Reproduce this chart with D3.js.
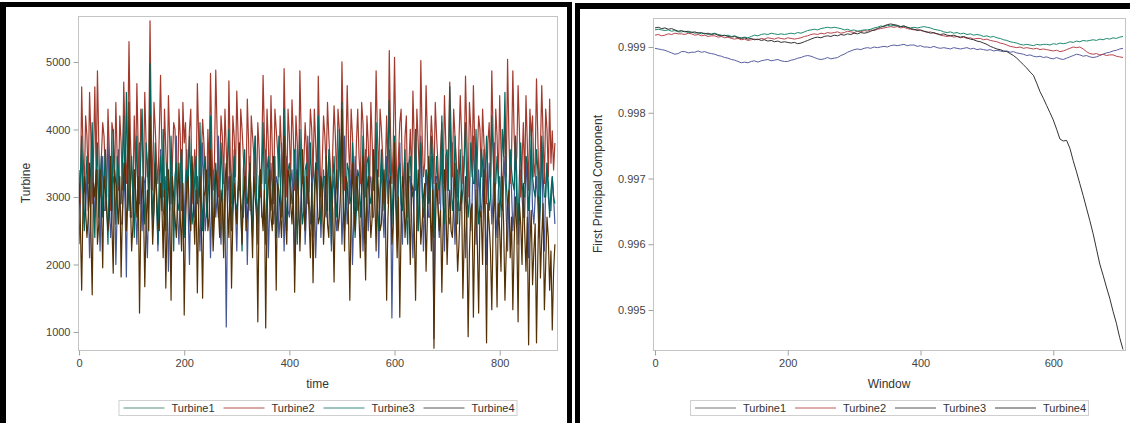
<!DOCTYPE html>
<html>
<head>
<meta charset="utf-8">
<script src="https://cdn.jsdelivr.net/npm/d3@7"></script>
<style>
  body { margin: 0; background: #fff; }
  svg text { font-family: 'Liberation Sans', Arial, sans-serif; }
</style>
</head>
<body>
<svg id="chart"></svg>
<script>
// ---- left chart: turbine readings ----
// main samples sit at time 0, 5, 10 ... ; the *Half arrays hold the readings in between (2.5, 7.5, ...)
const timeStep = 5;
const turbine1 = [2300,3700,2600,3300,2100,3800,2700,3400,2200,3600,2800,3900,2400,3300,2000,3700,2600,3500,1815,3900,
  2700,3400,2300,3800,2500,3200,2100,4300,2600,3500,2200,3700,2800,3300,1900,3600,2500,3900,2300,3400,
  2600,3700,2000,3500,2700,3300,2200,3800,2500,3600,2100,3400,2700,3900,2300,3500,1074,3300,2600,3700,
  2200,3500,2800,3200,2000,3600,2500,3900,2300,3400,2700,3700,2100,3500,2600,3300,2400,3800,2200,3600,
  2700,3400,2000,3700,2500,3300,2300,3900,2600,3500,2100,3800,2400,3400,2700,3600,2200,3300,2500,3700,
  2300,3900,2600,3400,2000,3600,2800,3500,2200,3700,2500,3300,2700,3800,2100,3500,2400,3600,3700,1207,
  3400,2600,3800,2300,3500,2700,3300,2100,3600,2500,3900,2200,3400,2700,3600,900,3300,2400,3700,2200,
  3500,2600,3800,2300,3400,2800,3600,2100,3500,2500,3900,2300,3400,2700,3700,2000,3500,2600,3800,2400,
  3300,2800,3600,2200,3500,2500,3900,2300,3400,2700,3600,2100,3700,2600,3300,2400,3800,2200,3500,2800,
  3300,2600];
const turbine1Half = [2900,3100,2800,3000,2700,3200,3000,2900,3100,2800,3300,3000,2700,3200,2800,3000,2600,2900,3300,2700,
  3200,2800,3100,2900,3300,2600,3000,3200,2800,3100,2900,3300,2700,3000,2800,3200,3000,2700,3100,2900,
  3300,2800,3000,3100,2900,2700,3200,3000,2800,3100,2900,3200,3000,2700,3100,2800,2900,3200,3000,2800,
  3100,2900,2700,3300,3000,2800,3200,2900,3100,2700,3000,3300,2800,3100,2900,3200,2700,3000,3100,2800,
  3200,2900,3000,2700,3100,3300,2800,3000,2900,3200,2700,3100,3000,2800,3300,2900,3100,2700,3000,3200,
  2800,3100,2900,3000,2700,3300,2900,3100,2800,3000,3200,2700,3100,2900,3000,2800,3200,2900,3100,2700,
  3000,3200,2800,3100,2900,3300,2700,3000,3100,2800,3200,2900,3000,2700,3100,3300,2900,2800,3000,3200,
  2700,3100,2900,3000,2800,3200,3000,2700,3100,2900,3300,2800,3000,3100,2900,2700,3200,3000,2800,3100,
  2900,3200,2700,3000,3100,2800,3300,2900,3000,2700,3100,3200,2800,3000,2900,3100,2700,3200,3000,2800,
  3000];
const turbine2 = [3400,4630,3100,3900,4550,2900,4630,4870,3000,4100,3300,4300,2800,3950,4400,3100,3800,4700,3200,5300,
  3400,4200,4680,2900,3900,4550,3300,5610,3100,4000,3200,4800,3000,3700,4500,2900,4100,3300,4300,2800,
  3800,3200,4000,2900,3700,4680,3000,4150,3300,4000,4830,3100,4880,3000,4200,3200,3700,4720,2900,3900,
  4570,3100,4000,3300,4450,2800,3900,3200,4100,3000,4800,3200,3800,4500,2900,4000,3300,3700,4900,3000,
  3900,4440,3100,3800,4870,3200,4100,2900,4300,3300,3800,4790,3000,4200,3400,3900,2800,4350,3200,4000,
  5000,3100,4650,3300,3900,2900,4300,3200,4100,3000,3800,4400,3100,4870,3300,4000,2900,4200,5170,3200,
  5070,3000,4100,3300,3900,2800,4000,4570,3100,3800,5020,3300,4650,3000,4200,3200,3900,2900,4100,4500,
  3100,4700,3300,3900,3000,4500,3200,4790,3000,4000,4650,3100,4200,3300,3800,2900,4100,4870,3200,3900,
  4500,3000,4200,5040,3200,4870,3400,4650,3000,4100,4500,3100,3900,3300,4750,3000,4650,3200,4000,4450,
  3980,3800];
const turbine2Half = [2900,3700,4200,3200,3900,3600,3300,3800,3600,3900,3000,3700,4100,3200,3600,4200,3100,3900,3700,3900,
  3000,3300,3700,4300,3200,3800,3600,3900,4400,3500,3900,3700,4300,3100,3800,3500,4000,3000,3900,4400,
  4100,3500,4300,3300,3000,3900,3600,3800,2900,3400,3800,3500,4000,3400,3900,4300,3100,3600,4200,3300,
  3900,4300,3600,3100,3800,4200,3600,3000,3700,3600,3900,4300,3100,3700,4300,3700,4200,3200,3800,4300,
  3300,3900,4200,3100,3900,3500,3700,3600,4000,4300,3200,3800,3500,3900,4400,3500,3700,3900,4300,3300,
  3900,3600,3800,4300,3400,3800,3600,4400,3500,4200,3100,3800,3600,3900,4300,3600,3400,3300,3900,3700,
  3800,3600,4300,3000,4200,3500,3200,3800,4300,3300,3900,3500,3900,3600,3800,4400,3500,3700,3200,3800,
  3600,4000,4300,3500,3800,3900,3500,3900,4400,3300,3800,3600,4000,4300,3500,3800,3300,3900,4300,3200,
  3700,3500,3300,3900,3600,3900,3600,4000,3500,3200,3800,4300,4200,3500,3900,3700,3900,4300,3300,3500,
  3400];
const turbine3 = [2900,3900,2500,3600,3000,4100,2400,3800,3200,2700,3700,2300,3500,4000,2600,3400,2900,4200,4550,2800,
  3600,2400,3900,3100,4300,2600,3500,4980,2700,3800,2300,3600,4000,2500,3300,3900,2200,3500,2800,3700,
  2400,3400,3900,2600,3300,2900,4100,2500,3600,3000,4200,2400,3500,2700,3800,2300,3400,4000,2500,3600,
  2800,3300,2200,3700,2900,3500,2400,3900,2600,3400,4100,2300,3600,2800,3300,2400,3900,2700,4300,2500,
  3500,2900,3700,2300,4000,2600,3400,3000,3800,2400,3500,4200,2600,3300,2800,3700,2300,3600,2700,4000,
  4400,2500,3500,2900,3800,2400,3400,2700,3900,2300,3600,2900,3300,4100,2500,3700,2800,3400,4440,2600,
  3900,2400,3500,2800,3700,2300,3600,3000,4000,2500,3800,2700,3400,2900,3900,2400,3600,3100,4200,2600,
  3700,4630,2800,3900,2600,3700,3100,4100,2700,3800,3200,4000,2600,3700,3000,3900,2800,4200,3100,3600,
  2700,4000,4550,2900,3700,3200,3900,2600,3800,3000,3600,2800,4000,3100,3700,2500,3900,3000,3500,2700,
  3300,2900];
const turbine3Half = [3300,3000,3200,2800,3500,2900,3300,2700,3600,3200,2900,3400,2800,3100,3600,2900,3500,3100,3400,3200,
  3000,3300,2700,3600,3000,3800,2900,3400,3100,2900,3300,2800,3200,3500,2800,3100,3300,2900,3400,3000,
  2900,3200,3300,2800,3600,3100,3000,3400,2700,3300,3000,3200,3100,2900,3300,2800,3600,3000,3200,2900,
  3100,2900,3400,3000,3200,2800,3500,3000,3300,3200,3000,3400,2900,3100,3600,2800,3300,3100,3000,3400,
  3200,3000,2900,3300,3100,2800,3500,3100,3200,3000,3400,2900,3100,3300,2800,3400,3200,3000,3300,3200,
  3100,2900,3400,3000,3200,2800,3300,3100,2900,3500,3000,3200,3400,2800,3100,3300,2900,3600,3000,3200,
  3000,3400,2900,3300,2800,3500,3100,3200,3000,3400,3100,2900,3300,3000,3500,3100,3200,3300,2900,3600,
  3100,3300,3000,3400,3200,2900,3500,3100,3000,3400,3200,3100,2900,3500,3300,3100,3000,3600,3200,3300,
  3100,3600,3200,3000,3400,3100,2900,3300,3200,3000,3500,3100,3300,3000,3400,2900,3300,3000,3200,3100,
  3000];
const turbine4 = [3200,1620,3300,2400,3500,1550,3000,2300,3400,1950,3100,2500,3600,1870,3200,2600,1815,3300,2500,4400,
  2200,3400,2700,1280,3300,1670,3100,4200,2300,3500,2600,3200,2100,1650,3400,1470,3000,2400,3500,2200,
  1250,3200,2700,3600,2300,1580,3300,1500,3100,2500,3700,2200,3400,2800,3100,2100,3500,2400,1650,3200,
  2600,3800,2300,3300,2700,3500,2100,3000,1150,3400,2500,1060,3200,2700,3600,1620,3100,2400,3900,2300,
  3300,2600,1590,3400,2200,3700,2500,3200,2100,1730,3500,2600,3300,2300,3600,2400,3100,1740,3400,2700,
  4300,2200,3200,1470,3500,2500,3100,2100,3600,1770,3300,2400,3700,2200,3000,2600,3400,1470,3200,2300,
  3800,2100,1220,3300,2400,3500,2000,3100,1470,3400,2300,3000,1900,3600,2200,760,3200,2500,1590,3400,
  2000,3100,2400,3500,1900,2900,1500,3300,930,2800,1220,3100,1280,2700,3400,840,2600,1330,3200,1370,
  2500,3300,1470,2900,2100,1330,3000,1150,2600,3200,1900,810,2800,2200,840,3000,2400,1330,2700,1620,
  1030,2300];
const turbine4Half = [2600,2900,2800,2700,2500,3200,3400,2600,2900,3300,2800,2700,2600,3400,2900,3300,2800,3500,2900,3000,
  2600,3100,3300,2700,2900,2600,2500,3100,2800,3000,2500,2900,3100,2700,2800,3300,2700,3000,2700,3200,
  2600,3300,2500,2900,3100,2800,2600,3000,3400,2700,3000,2700,3200,2400,2900,3200,2800,3300,2700,2900,
  3100,2800,3000,2500,3000,2800,3300,2700,2900,2800,3100,2800,3400,2500,2900,3200,2800,3000,2700,3400,
  2900,3100,2600,3000,2800,2900,3300,2700,3200,2800,3000,2700,3100,2800,2600,3300,2800,3000,2500,3100,
  2900,3300,2700,2900,2800,3300,2700,3000,2600,3100,2900,2700,3000,3400,2500,3100,2800,2700,3300,2600,
  2900,3000,2600,3100,2800,2900,3200,2600,2800,3000,2600,3200,2700,2900,3100,2500,2900,2800,2600,3000,
  2700,2500,2900,2600,2300,3100,2400,2600,2200,2900,2500,2300,2800,2000,2500,2900,2200,2600,2400,2900,
  1900,2600,2200,3100,2700,2300,2500,2900,2000,2500,2700,2300,1700,2600,2100,1800,2900,2000,2400,2200,
  1900];
const timeTicks = [0, 200, 400, 600, 800];
const turbineTicks = [1000, 2000, 3000, 4000, 5000];

// ---- right chart: first principal component, one value every 5 windows ----
const windowStep = 5;
const pc1 = [0.99898,0.99897,0.99896,0.99895,0.99893,0.99891,0.99889,0.99890,0.99893,0.99893,0.99891,0.99892,0.99892,0.99894,0.99892,0.99893,0.99891,0.99890,0.99889,0.99887,
  0.99886,0.99884,0.99883,0.99881,0.99880,0.99878,0.99876,0.99877,0.99876,0.99878,0.99879,0.99877,0.99879,0.99880,0.99881,0.99879,0.99880,0.99881,0.99879,0.99878,
  0.99878,0.99880,0.99881,0.99883,0.99884,0.99886,0.99887,0.99886,0.99884,0.99882,0.99881,0.99882,0.99884,0.99882,0.99883,0.99884,0.99887,0.99889,0.99892,0.99894,
  0.99896,0.99897,0.99896,0.99898,0.99899,0.99898,0.99900,0.99899,0.99900,0.99901,0.99900,0.99902,0.99903,0.99902,0.99903,0.99904,0.99902,0.99903,0.99903,0.99901,
  0.99902,0.99900,0.99900,0.99899,0.99901,0.99899,0.99898,0.99899,0.99898,0.99897,0.99899,0.99898,0.99897,0.99898,0.99899,0.99897,0.99898,0.99896,0.99897,0.99896,
  0.99895,0.99896,0.99894,0.99895,0.99894,0.99893,0.99894,0.99892,0.99893,0.99891,0.99890,0.99889,0.99887,0.99888,0.99886,0.99885,0.99886,0.99884,0.99885,0.99883,
  0.99882,0.99884,0.99882,0.99881,0.99883,0.99885,0.99887,0.99889,0.99888,0.99886,0.99887,0.99885,0.99884,0.99885,0.99887,0.99889,0.99891,0.99892,0.99894,0.99895,
  0.99897,0.99898];
const pc2 = [0.99918,0.99919,0.99917,0.99918,0.99920,0.99919,0.99921,0.99920,0.99920,0.99919,0.99921,0.99920,0.99918,0.99919,0.99917,0.99918,0.99916,0.99917,0.99917,0.99915,
  0.99916,0.99914,0.99915,0.99913,0.99912,0.99913,0.99911,0.99912,0.99910,0.99911,0.99912,0.99911,0.99913,0.99912,0.99914,0.99913,0.99912,0.99914,0.99913,0.99912,
  0.99914,0.99913,0.99912,0.99913,0.99914,0.99916,0.99917,0.99919,0.99920,0.99919,0.99921,0.99920,0.99922,0.99921,0.99922,0.99923,0.99921,0.99922,0.99924,0.99923,
  0.99922,0.99924,0.99923,0.99925,0.99924,0.99926,0.99925,0.99927,0.99928,0.99929,0.99930,0.99931,0.99930,0.99931,0.99929,0.99930,0.99928,0.99927,0.99926,0.99927,
  0.99925,0.99924,0.99922,0.99923,0.99921,0.99920,0.99918,0.99917,0.99916,0.99917,0.99915,0.99916,0.99914,0.99915,0.99913,0.99914,0.99912,0.99913,0.99913,0.99911,
  0.99912,0.99910,0.99909,0.99908,0.99906,0.99905,0.99903,0.99901,0.99900,0.99899,0.99900,0.99898,0.99899,0.99898,0.99897,0.99898,0.99896,0.99897,0.99896,0.99895,
  0.99894,0.99895,0.99893,0.99894,0.99896,0.99898,0.99900,0.99899,0.99900,0.99897,0.99893,0.99890,0.99889,0.99890,0.99888,0.99889,0.99887,0.99888,0.99888,0.99886,
  0.99885,0.99884];
const pc3 = [0.99926,0.99927,0.99926,0.99925,0.99926,0.99924,0.99925,0.99923,0.99923,0.99924,0.99922,0.99923,0.99921,0.99922,0.99920,0.99921,0.99919,0.99920,0.99921,0.99919,
  0.99918,0.99917,0.99918,0.99916,0.99917,0.99915,0.99914,0.99915,0.99914,0.99916,0.99918,0.99917,0.99919,0.99920,0.99919,0.99921,0.99920,0.99919,0.99920,0.99919,
  0.99920,0.99921,0.99920,0.99922,0.99921,0.99923,0.99925,0.99926,0.99927,0.99926,0.99928,0.99929,0.99930,0.99929,0.99930,0.99929,0.99928,0.99926,0.99927,0.99925,
  0.99926,0.99924,0.99925,0.99926,0.99926,0.99927,0.99929,0.99930,0.99932,0.99931,0.99933,0.99932,0.99933,0.99932,0.99931,0.99932,0.99930,0.99929,0.99930,0.99929,
  0.99930,0.99931,0.99930,0.99929,0.99927,0.99926,0.99925,0.99923,0.99922,0.99923,0.99921,0.99922,0.99920,0.99921,0.99919,0.99920,0.99918,0.99919,0.99918,0.99916,
  0.99917,0.99915,0.99916,0.99914,0.99913,0.99911,0.99910,0.99908,0.99907,0.99906,0.99904,0.99903,0.99904,0.99903,0.99902,0.99904,0.99903,0.99904,0.99904,0.99903,
  0.99905,0.99904,0.99906,0.99905,0.99906,0.99908,0.99907,0.99909,0.99908,0.99910,0.99909,0.99910,0.99911,0.99910,0.99912,0.99911,0.99913,0.99912,0.99914,0.99913,
  0.99915,0.99916];
const pc4 = [0.99929,0.99930,0.99928,0.99929,0.99927,0.99928,0.99926,0.99924,0.99925,0.99923,0.99924,0.99922,0.99923,0.99921,0.99922,0.99920,0.99921,0.99919,0.99920,0.99918,
  0.99917,0.99918,0.99916,0.99915,0.99916,0.99914,0.99913,0.99914,0.99912,0.99913,0.99911,0.99912,0.99910,0.99911,0.99909,0.99910,0.99908,0.99909,0.99907,0.99908,
  0.99907,0.99906,0.99907,0.99905,0.99906,0.99908,0.99910,0.99912,0.99914,0.99915,0.99914,0.99916,0.99917,0.99916,0.99918,0.99917,0.99919,0.99918,0.99920,0.99919,
  0.99921,0.99920,0.99922,0.99921,0.99922,0.99924,0.99926,0.99928,0.99930,0.99932,0.99934,0.99935,0.99934,0.99933,0.99931,0.99932,0.99930,0.99928,0.99927,0.99925,
  0.99926,0.99924,0.99923,0.99921,0.99922,0.99920,0.99919,0.99920,0.99918,0.99917,0.99918,0.99916,0.99915,0.99916,0.99914,0.99912,0.99911,0.99909,0.99908,0.99906,
  0.99904,0.99901,0.99899,0.99897,0.99896,0.99894,0.99893,0.99890,0.99887,0.99883,0.99878,0.99873,0.99868,0.99862,0.99857,0.99845,0.99832,0.99822,0.99811,0.99800,
  0.99789,0.99775,0.99760,0.99757,0.99758,0.99746,0.99727,0.99710,0.99692,0.99674,0.99655,0.99636,0.99616,0.99593,0.99570,0.99553,0.99535,0.99518,0.99498,0.99480,
  0.99458,0.99440];
const windowTicks = [0, 200, 400, 600];
const pcTicks = [0.995, 0.996, 0.997, 0.998, 0.999];

const seriesNames = ['Turbine1', 'Turbine2', 'Turbine3', 'Turbine4'];
const leftColors = ['#445694', '#A23A2E', '#01665E', '#543005'];
const rightColors = ['#5a5fa0', '#b8464e', '#1e8a6e', '#333333'];

// pair each sample with its x position; half samples go between the main ones
function toPoints(main, half, step) {
    const pts = [];
    main.forEach((v, i) => {
        pts.push([i * step, v]);
        if (half && i < half.length) pts.push([i * step + step / 2, half[i]]);
    });
    return pts;
}

const W = 1130, H = 423;
const svg = d3.select('#chart')
    .attr('width', W)
    .attr('height', H)
    .style('display', 'block');

svg.append('rect').attr('width', W).attr('height', H).attr('fill', '#fff');

// thick black panel borders (bottom edge runs off the picture)
function panelBorder(x0, x1, top, left, right, topW) {
    svg.append('rect').attr('x', x0).attr('y', top).attr('width', x1 - x0).attr('height', topW).attr('fill', '#000');
    svg.append('rect').attr('x', x0).attr('y', top).attr('width', left).attr('height', H - top).attr('fill', '#000');
    if (right) {
        svg.append('rect').attr('x', x1 - right).attr('y', top).attr('width', right).attr('height', H - top).attr('fill', '#000');
    }
}
panelBorder(0, 572, 2, 6, 5, 5);
panelBorder(575, W + 10, 3, 5, 0, 6);

function drawPanel(p) {
    const g = svg.append('g');

    const x = d3.scaleLinear().domain(p.xDomain).range([p.left, p.right]);
    const y = d3.scaleLinear().domain(p.yDomain).range([p.bottom, p.top]);

    // clip lines to the plot frame
    const clipId = 'clip' + p.id;
    g.append('clipPath').attr('id', clipId)
        .append('rect')
        .attr('x', p.left).attr('y', p.top)
        .attr('width', p.right - p.left).attr('height', p.bottom - p.top);

    const line = d3.line()
        .x(d => x(d[0]))
        .y(d => y(d[1]));

    g.append('g')
        .attr('clip-path', `url(#${clipId})`)
        .selectAll('path')
        .data(p.series)
        .join('path')
        .attr('d', d => line(d))
        .attr('fill', 'none')
        .attr('stroke', (d, i) => p.colors[i])
        .attr('stroke-width', p.lineWidth)
        .attr('stroke-linejoin', 'round');

    // plot frame
    g.append('rect')
        .attr('x', p.left + 0.5).attr('y', p.top + 0.5)
        .attr('width', p.right - p.left).attr('height', p.bottom - p.top)
        .attr('fill', 'none')
        .attr('stroke', '#c4c4c4');

    // axes
    const xAxis = d3.axisBottom(x).tickValues(p.xTicks).tickSize(5).tickPadding(4);
    const yAxis = d3.axisLeft(y).tickValues(p.yTicks).tickSize(5).tickPadding(3)
        .tickFormat(p.yFormat);

    const gx = g.append('g')
        .attr('transform', `translate(0, ${p.bottom + 0.5})`)
        .call(xAxis);
    const gy = g.append('g')
        .attr('transform', `translate(${p.left + 0.5}, 0)`)
        .call(yAxis);

    [gx, gy].forEach(a => {
        a.select('.domain').remove();
        a.selectAll('.tick line').attr('stroke', '#a0a0a0');
        a.selectAll('.tick text')
            .attr('fill', '#444')
            .style('font-size', '11px');
    });

    const cx = (p.left + p.right) / 2;
    const cy = (p.top + p.bottom) / 2;

    g.append('text')
        .attr('x', cx).attr('y', 388)
        .attr('text-anchor', 'middle')
        .attr('fill', '#333')
        .style('font-size', '12px')
        .text(p.xLabel);

    g.append('text')
        .attr('transform', `translate(${p.yLabelX}, ${cy}) rotate(-90)`)
        .attr('text-anchor', 'middle')
        .attr('fill', '#333')
        .style('font-size', '12px')
        .text(p.yLabel);

    // legend
    const itemW = 100;
    const legW = itemW * seriesNames.length - 2;
    const lx = cx - legW / 2;
    const leg = g.append('g');
    leg.append('rect')
        .attr('x', lx + 0.5).attr('y', 400.5)
        .attr('width', legW).attr('height', 15)
        .attr('fill', '#fff')
        .attr('stroke', '#d0d0d0');

    const item = leg.selectAll('.item')
        .data(seriesNames)
        .join('g')
        .attr('transform', (d, i) => `translate(${lx + 5 + i * itemW}, 408)`);
    item.append('line')
        .attr('x1', 0).attr('x2', 41)
        .attr('stroke', (d, i) => p.legendColors[i])
        .attr('stroke-width', 1);
    item.append('text')
        .attr('x', 48).attr('y', 4)
        .attr('fill', '#333')
        .style('font-size', '11px')
        .text(d => d);
}

drawPanel({
    id: 'L',
    left: 78, right: 557, top: 16, bottom: 350,
    xDomain: [-2, 909], yDomain: [733, 5681],
    series: [
        toPoints(turbine1, turbine1Half, timeStep),
        toPoints(turbine2, turbine2Half, timeStep),
        toPoints(turbine3, turbine3Half, timeStep),
        toPoints(turbine4, turbine4Half, timeStep)
    ],
    colors: leftColors,
    lineWidth: 1.2,
    xTicks: timeTicks, yTicks: turbineTicks,
    yFormat: d3.format('d'),
    xLabel: 'time', yLabel: 'Turbine', yLabelX: 30,
    legendColors: ['#5a8f86', '#b5524a', '#3a8a7e', '#555']
});

drawPanel({
    id: 'R',
    left: 653, right: 1125, top: 18, bottom: 350,
    xDomain: [-3, 708], yDomain: [0.994392, 0.999441],
    series: [pc1, pc2, pc3, pc4].map(s => toPoints(s, null, windowStep)),
    colors: rightColors,
    lineWidth: 1,
    xTicks: windowTicks, yTicks: pcTicks,
    yFormat: d3.format('.3f'),
    xLabel: 'Window', yLabel: 'First Principal Component', yLabelX: 602,
    legendColors: ['#777', '#c05a5a', '#555', '#444']
});
</script>
</body>
</html>
